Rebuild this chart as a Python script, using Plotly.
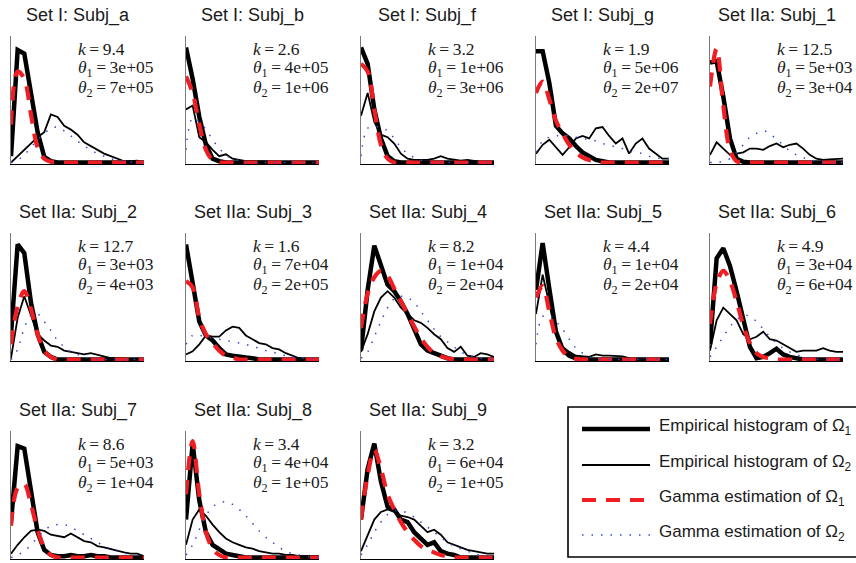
import plotly.graph_objects as go

W, H = 856, 563

# ---------------- data ----------------
bins = list(range(21))

titles = ["Set I: Subj_a", "Set I: Subj_b", "Set I: Subj_f", "Set I: Subj_g", "Set IIa: Subj_1",
          "Set IIa: Subj_2", "Set IIa: Subj_3", "Set IIa: Subj_4", "Set IIa: Subj_5", "Set IIa: Subj_6",
          "Set IIa: Subj_7", "Set IIa: Subj_8", "Set IIa: Subj_9"]
k_vals = ["9.4", "2.6", "3.2", "1.9", "12.5", "12.7", "1.6", "8.2", "4.4", "4.9", "8.6", "3.4", "3.2"]
theta1 = ["3e+05", "4e+05", "1e+06", "5e+06", "5e+03", "3e+03", "7e+04", "1e+04", "1e+04", "3e+04",
          "5e+03", "4e+04", "6e+04"]
theta2 = ["7e+05", "1e+06", "3e+06", "2e+07", "3e+04", "4e+03", "2e+05", "2e+04", "2e+04", "6e+04",
          "1e+04", "1e+05", "1e+05"]

# empirical histogram of Omega_1 (thick black)
emp1 = [
    [0.05, 0.89, 0.86, 0.57, 0.24, 0.045, 0.01, 0, 0, 0, 0, 0, 0, 0, 0, 0, 0, 0, 0, 0, 0],
    [0.91, 0.66, 0.36, 0.14, 0.03, 0.01, 0, 0, 0, 0, 0, 0, 0, 0, 0, 0, 0, 0, 0, 0, 0],
    [0.91, 0.78, 0.42, 0.19, 0.05, 0.01, 0, 0, 0, 0, 0, 0, 0, 0, 0, 0, 0, 0, 0, 0, 0],
    [0.88, 0.88, 0.63, 0.29, 0.23, 0.19, 0.13, 0.08, 0.05, 0.02, 0.01, 0, 0, 0, 0, 0, 0, 0, 0, 0, 0],
    [0.79, 0.80, 0.52, 0.19, 0.03, 0.005, 0, 0, 0, 0, 0, 0, 0, 0, 0, 0, 0, 0, 0, 0, 0],
    [0.20, 0.91, 0.84, 0.45, 0.20, 0.06, 0.02, 0, 0, 0, 0, 0, 0, 0, 0, 0, 0, 0, 0, 0, 0],
    [0.91, 0.58, 0.30, 0.19, 0.15, 0.09, 0.04, 0.03, 0.02, 0.015, 0.01, 0, 0, 0, 0, 0, 0, 0, 0, 0, 0],
    [0.07, 0.55, 0.90, 0.75, 0.59, 0.54, 0.46, 0.36, 0.23, 0.12, 0.07, 0.05, 0.03, 0.01, 0, 0, 0, 0, 0, 0, 0],
    [0.55, 0.92, 0.56, 0.22, 0.08, 0.03, 0.01, 0, 0, 0, 0, 0, 0, 0, 0, 0, 0, 0, 0, 0, 0],
    [0.12, 0.80, 0.88, 0.74, 0.54, 0.33, 0.10, 0.01, 0.02, 0.05, 0.085, 0.04, 0.02, 0.01, 0, 0, 0, 0, 0, 0, 0],
    [0.28, 0.88, 0.86, 0.50, 0.20, 0.06, 0.02, 0.01, 0.01, 0.02, 0.01, 0.01, 0.02, 0.01, 0.01, 0, 0, 0, 0, 0, 0],
    [0.30, 0.90, 0.45, 0.20, 0.10, 0.06, 0.03, 0.02, 0.01, 0, 0, 0, 0, 0, 0, 0, 0, 0, 0, 0, 0],
    [0.30, 0.70, 0.90, 0.60, 0.40, 0.38, 0.30, 0.28, 0.20, 0.15, 0.10, 0.12, 0.05, 0.03, 0.02, 0, 0, 0, 0, 0, 0],
]
# empirical histogram of Omega_2 (thin black)
emp2 = [
    [0, 0.05, 0.10, 0.15, 0.20, 0.24, 0.38, 0.36, 0.29, 0.26, 0.22, 0.16, 0.13, 0.10, 0.07, 0.05, 0.03, 0.01, 0.01, 0.015, 0],
    [0.42, 0.45, 0.20, 0.16, 0.10, 0.05, 0.065, 0.03, 0.02, 0.01, 0.01, 0.01, 0.01, 0.01, 0.005, 0, 0, 0, 0, 0, 0],
    [0.37, 0.55, 0.32, 0.22, 0.20, 0.15, 0.07, 0.03, 0.02, 0.02, 0.02, 0.03, 0.05, 0.03, 0.02, 0.015, 0.02, 0.01, 0.005, 0, 0],
    [0.07, 0.14, 0.18, 0.12, 0.06, 0.12, 0.19, 0.21, 0.19, 0.27, 0.28, 0.21, 0.15, 0.19, 0.07, 0.15, 0.19, 0.11, 0.07, 0.03, 0.03],
    [0.06, 0.16, 0.11, 0.06, 0.07, 0.08, 0.11, 0.11, 0.10, 0.13, 0.15, 0.12, 0.14, 0.15, 0.11, 0.06, 0.03, 0.02, 0.025, 0.03, 0.03],
    [0.01, 0.33, 0.50, 0.35, 0.20, 0.15, 0.11, 0.10, 0.07, 0.06, 0.05, 0.04, 0.05, 0.035, 0.02, 0.01, 0.01, 0.005, 0, 0, 0],
    [0.04, 0.065, 0.12, 0.19, 0.18, 0.18, 0.23, 0.26, 0.25, 0.19, 0.16, 0.13, 0.12, 0.09, 0.08, 0.05, 0.03, 0.01, 0.005, 0, 0],
    [0.06, 0.20, 0.38, 0.49, 0.54, 0.49, 0.41, 0.36, 0.31, 0.29, 0.25, 0.20, 0.16, 0.09, 0.06, 0.10, 0.03, 0.02, 0.05, 0.04, 0.02],
    [0.36, 0.67, 0.44, 0.20, 0.10, 0.06, 0.03, 0.025, 0.02, 0.04, 0.03, 0.03, 0.03, 0.025, 0.01, 0, 0, 0, 0, 0, 0],
    [0.07, 0.31, 0.41, 0.36, 0.31, 0.20, 0.16, 0.18, 0.22, 0.16, 0.15, 0.12, 0.09, 0.06, 0.07, 0.07, 0.07, 0.09, 0.07, 0.06, 0.06],
    [0.03, 0.10, 0.16, 0.21, 0.22, 0.21, 0.18, 0.17, 0.16, 0.19, 0.16, 0.13, 0.12, 0.09, 0.08, 0.065, 0.05, 0.04, 0.03, 0.03, 0.01],
    [0.10, 0.30, 0.38, 0.33, 0.26, 0.20, 0.15, 0.12, 0.10, 0.08, 0.07, 0.05, 0.04, 0.03, 0.03, 0.02, 0.02, 0.01, 0.01, 0.01, 0.01],
    [0.05, 0.18, 0.30, 0.36, 0.38, 0.36, 0.33, 0.32, 0.30, 0.25, 0.20, 0.22, 0.18, 0.12, 0.10, 0.08, 0.06, 0.05, 0.04, 0.03, 0.03],
]
# gamma estimation of Omega_1 (red dashed)
gam1 = [
    [0.30, 0.72, 0.66, 0.38, 0.12, 0.03, 0.005, 0, 0, 0, 0, 0, 0, 0, 0, 0, 0, 0, 0, 0, 0],
    [0.68, 0.55, 0.30, 0.10, 0.02, 0, 0, 0, 0, 0, 0, 0, 0, 0, 0, 0, 0, 0, 0, 0, 0],
    [0.78, 0.72, 0.42, 0.14, 0.03, 0, 0, 0, 0, 0, 0, 0, 0, 0, 0, 0, 0, 0, 0, 0, 0],
    [0.55, 0.64, 0.50, 0.33, 0.23, 0.14, 0.08, 0.04, 0.02, 0.01, 0, 0, 0, 0, 0, 0, 0, 0, 0, 0, 0],
    [0.60, 0.90, 0.45, 0.10, 0.01, 0, 0, 0, 0, 0, 0, 0, 0, 0, 0, 0, 0, 0, 0, 0, 0],
    [0.12, 0.42, 0.54, 0.40, 0.20, 0.07, 0.02, 0, 0, 0, 0, 0, 0, 0, 0, 0, 0, 0, 0, 0, 0],
    [0.62, 0.57, 0.33, 0.20, 0.13, 0.07, 0.03, 0.015, 0, 0, 0, 0, 0, 0, 0, 0, 0, 0, 0, 0, 0],
    [0.25, 0.52, 0.65, 0.70, 0.66, 0.56, 0.46, 0.36, 0.26, 0.17, 0.10, 0.05, 0.025, 0.01, 0, 0, 0, 0, 0, 0, 0],
    [0.49, 0.58, 0.38, 0.17, 0.07, 0.02, 0.005, 0, 0, 0, 0, 0, 0, 0, 0, 0, 0, 0, 0, 0, 0],
    [0.28, 0.60, 0.70, 0.62, 0.46, 0.27, 0.13, 0.05, 0.02, 0.01, 0, 0, 0, 0, 0, 0, 0, 0, 0, 0, 0],
    [0.25, 0.55, 0.58, 0.42, 0.22, 0.08, 0.02, 0, 0, 0, 0, 0, 0, 0, 0, 0, 0, 0, 0, 0, 0],
    [0.50, 0.92, 0.50, 0.20, 0.07, 0.02, 0, 0, 0, 0, 0, 0, 0, 0, 0, 0, 0, 0, 0, 0, 0],
    [0.30, 0.65, 0.85, 0.70, 0.50, 0.38, 0.28, 0.20, 0.14, 0.09, 0.06, 0.04, 0.02, 0.01, 0, 0, 0, 0, 0, 0, 0],
]
# gamma estimation of Omega_2 (blue dotted)
gam2 = [
    [0, 0.02, 0.06, 0.12, 0.18, 0.23, 0.27, 0.28, 0.25, 0.21, 0.17, 0.13, 0.10, 0.07, 0.05, 0.03, 0.02, 0.01, 0.005, 0, 0],
    [0.10, 0.35, 0.32, 0.26, 0.18, 0.11, 0.06, 0.03, 0.015, 0, 0, 0, 0, 0, 0, 0, 0, 0, 0, 0, 0],
    [0.05, 0.27, 0.28, 0.28, 0.25, 0.19, 0.12, 0.07, 0.04, 0.02, 0, 0, 0, 0, 0, 0, 0, 0, 0, 0, 0],
    [0.08, 0.17, 0.20, 0.21, 0.21, 0.21, 0.20, 0.19, 0.18, 0.17, 0.15, 0.14, 0.12, 0.11, 0.09, 0.08, 0.07, 0.05, 0.04, 0.03, 0.03],
    [0, 0, 0.01, 0.03, 0.08, 0.14, 0.20, 0.23, 0.25, 0.23, 0.18, 0.14, 0.09, 0.06, 0.04, 0.02, 0.01, 0, 0, 0, 0],
    [0, 0.08, 0.25, 0.35, 0.36, 0.30, 0.23, 0.15, 0.10, 0.06, 0.04, 0.02, 0.01, 0, 0, 0, 0, 0, 0, 0, 0],
    [0.12, 0.19, 0.19, 0.18, 0.17, 0.16, 0.15, 0.14, 0.13, 0.12, 0.10, 0.09, 0.07, 0.06, 0.04, 0.03, 0.02, 0.015, 0.01, 0.005, 0],
    [0.01, 0.06, 0.18, 0.30, 0.41, 0.48, 0.50, 0.49, 0.45, 0.38, 0.31, 0.24, 0.18, 0.14, 0.10, 0.06, 0.04, 0.02, 0.01, 0, 0],
    [0.12, 0.34, 0.35, 0.30, 0.24, 0.16, 0.09, 0.05, 0.02, 0.01, 0, 0, 0, 0, 0, 0, 0, 0, 0, 0, 0],
    [0.02, 0.10, 0.18, 0.26, 0.31, 0.35, 0.34, 0.30, 0.24, 0.18, 0.13, 0.09, 0.06, 0.04, 0.02, 0.01, 0, 0, 0, 0, 0],
    [0, 0.02, 0.05, 0.10, 0.16, 0.21, 0.25, 0.26, 0.26, 0.24, 0.21, 0.18, 0.15, 0.12, 0.09, 0.07, 0.05, 0.035, 0.025, 0.015, 0.01],
    [0.02, 0.10, 0.22, 0.33, 0.40, 0.43, 0.44, 0.42, 0.38, 0.33, 0.27, 0.21, 0.16, 0.12, 0.08, 0.05, 0.03, 0.02, 0.01, 0, 0],
    [0.02, 0.10, 0.20, 0.28, 0.34, 0.37, 0.37, 0.35, 0.32, 0.28, 0.24, 0.20, 0.16, 0.12, 0.09, 0.07, 0.05, 0.03, 0.02, 0.01, 0],
]

legend_labels = ["Empirical histogram of Ω<sub>1</sub>", "Empirical histogram of Ω<sub>2</sub>",
                 "Gamma estimation of Ω<sub>1</sub>", "Gamma estimation of Ω<sub>2</sub>"]

# ---------------- styles / layout ----------------
RED = "#f01e23"
BLUE = "#3548d0"
styles = [
    dict(color="black", width=4.5),
    dict(color="black", width=1.8),
    dict(color=RED, width=4.2, dash="14px,10px"),
    dict(color=BLUE, width=1.5, dash="1.5px,8px"),
]
shapes_line = ["linear", "linear", "spline", "spline"]

col_left = [11, 186, 361, 536, 710]
row_top = [36, 233, 431]
PW, PH = 133, 128

def px(x):
    return x / W

def py(y):
    return 1 - y / H

fig = go.Figure()
annotations = []
layout_axes = {}
SP = "\u2009"
for p in range(13):
    r, c = divmod(p, 5)
    L, T = col_left[c], row_top[r]
    ax = "" if p == 0 else str(p + 1)
    xa, ya = "x" + ax, "y" + ax
    series = [emp1[p], emp2[p], gam1[p], gam2[p]]
    for s, sty, shp in zip(series, styles, shapes_line):
        fig.add_trace(go.Scatter(x=bins, y=s, mode="lines", line=dict(shape=shp, **sty),
                                 xaxis=xa, yaxis=ya, showlegend=False, hoverinfo="skip"))
    layout_axes["xaxis" + ax] = dict(domain=[px(L), px(L + PW)], anchor=ya, range=[0, 20],
                                     showgrid=False, zeroline=False, showticklabels=False, ticks="",
                                     showline=True, linecolor="black", linewidth=1)
    layout_axes["yaxis" + ax] = dict(domain=[py(T + PH), py(T)], anchor=xa, range=[-0.012, 1],
                                     showgrid=False, zeroline=False, showticklabels=False, ticks="",
                                     showline=True, linecolor="#7a7a7a", linewidth=1.2)
    annotations.append(dict(text=titles[p], x=px(L + PW / 2), y=py(T - 21), xref="paper", yref="paper",
                            xanchor="center", yanchor="middle", showarrow=False,
                            font=dict(family="Liberation Sans, Arial", size=18, color="#1a1a1a")))
    lines = ["<i>k</i>" + SP + "=" + SP + k_vals[p],
             "<i>θ</i><sub>1</sub>" + SP + "=" + SP + theta1[p],
             "<i>θ</i><sub>2</sub>" + SP + "=" + SP + theta2[p]]
    for j, (txt, dy) in enumerate(zip(lines, [12.5, 32.5, 52.5])):
        annotations.append(dict(text=txt, x=px(L + 65), y=py(T + dy), xref="paper", yref="paper",
                                xanchor="left", yanchor="middle", showarrow=False, height=17,
                                font=dict(family="Liberation Serif, Times New Roman, serif", size=17.5,
                                          color="#1a1a1a")))

# legend box (drawn manually, partly cut off by the right figure edge as in the original)
shapes = [dict(type="rect", xref="paper", yref="paper", x0=px(568), x1=px(900), y0=py(557), y1=py(407),
               line=dict(color="black", width=1.6), fillcolor="white", layer="below")]
leg_y = [429, 465, 500, 535]
for j, sty in enumerate(styles):
    shapes.append(dict(type="line", xref="paper", yref="paper", x0=px(582), x1=px(650),
                       y0=py(leg_y[j]), y1=py(leg_y[j]), line=dict(sty)))
    annotations.append(dict(text=legend_labels[j], x=px(657), y=py(leg_y[j] - 2), xref="paper", yref="paper",
                            xanchor="left", yanchor="middle", showarrow=False,
                            font=dict(family="Liberation Sans, Arial", size=17, color="#1a1a1a")))

fig.update_layout(width=W, height=H, autosize=False, margin=dict(l=0, r=0, t=0, b=0, autoexpand=False),
                  paper_bgcolor="white", plot_bgcolor="white", showlegend=False,
                  annotations=annotations, shapes=shapes, **layout_axes)

fig.write_html("out.html")
